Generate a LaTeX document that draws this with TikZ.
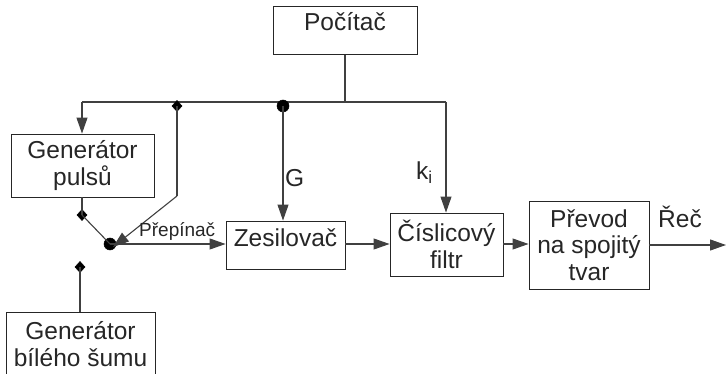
\documentclass[tikz,border=0pt]{standalone}
\usepackage{fontspec}
\setmainfont{Liberation Sans}
\usetikzlibrary{arrows.meta,shapes.geometric}
\begin{document}
\begin{tikzpicture}[x=1pt,y=-1pt,
  box/.style={draw=black!85,line width=0.9pt,inner sep=0pt,align=center,text=black!85,font=\fontsize{24.5}{26.5}\selectfont},
  conn/.style={draw=black!75,line width=1.1pt},
  arr/.style={conn,-{Triangle[length=16pt,width=11pt]}},
  jdot/.style={circle,fill=black,draw=black,line width=0.5pt,inner sep=0pt,outer sep=0pt,minimum size=12pt},
  jdia/.style={diamond,fill=black,draw=black,line width=0.5pt,inner sep=0pt,outer sep=0pt,minimum width=10pt,minimum height=11pt},
  lbl/.style={inner sep=0pt,anchor=base west,text=black!85,font=\fontsize{24.5}{26.5}\selectfont}]
\useasboundingbox (0,0) rectangle (726,374);
% boxes
\node[box,minimum width=144pt,minimum height=48pt,text height=9pt,text depth=8.2pt] (pc) at (345,30.3) {Počítač};
\node[box,minimum width=143pt,minimum height=63pt] (gp) at (82.5,165.5) {Generátor\\pulsů};
\node[box,minimum width=149pt,minimum height=64pt] (gb) at (80.5,344) {Generátor\\bílého šumu};
\node[box,minimum width=119pt,minimum height=48pt,text height=10pt,text depth=7.4pt] (zs) at (285.5,245) {Zesilovač};
\node[box,minimum width=113pt,minimum height=63pt] (cf) at (446.5,244.5) {Číslicový\\filtr};
\node[box,minimum width=120pt,minimum height=88pt] (pr) at (589,245) {Převod\\na spojitý\\tvar};
% junctions
\coordinate (bus) at (345,102);
\coordinate (busL) at (82,102);
\coordinate (busR) at (446,102);
\coordinate (bend) at (177,196);
\coordinate (out) at (726,245);
% connectors
\draw[conn] (pc.south) -- (bus);
\draw[conn] (busL) -- (busR);
\draw[arr] (busL) -- (busL |- gp.north);
\draw[arr] (busR) -- (busR |- cf.north);
\node[jdot] (gdot) at (283,106) {};
\node[jdia] (sdia) at (177,106) {};
\node[jdot] (sw) at (110,244) {};
\node[jdia] (pdia) at (82,215) {};
\node[jdia] (wdia) at (80,267) {};
\draw[arr] (gdot.center) -- (gdot |- zs.north);
\draw[conn] (sdia.center) -- (bend);
\draw[arr] (bend) -- ([shift={(3pt,-3pt)}]sw.center);
\draw[conn] (pdia |- gp.south) -- (pdia.center);
\draw[conn] (pdia.center) -- (sw.center);
\draw[conn] (wdia.center) -- (wdia |- gb.north);
\draw[arr] (sw.center) -- (sw -| zs.west);
\draw[arr] (zs.east |- sw) -- (cf.west |- sw);
\draw[arr] (cf.east |- sw) -- (pr.west |- sw);
\draw[arr] (pr.east |- out) -- (out);
% labels
\node[lbl,font=\fontsize{19}{21}\selectfont] (swl) at (139,237) {Přepínač};
\node[lbl] (gl) at (285,187) {G};
\node[lbl] (kl) at (416,180) {k\textsubscript{i}};
\node[lbl] (rl) at (658,228) {Řeč};
\end{tikzpicture}
\end{document}
